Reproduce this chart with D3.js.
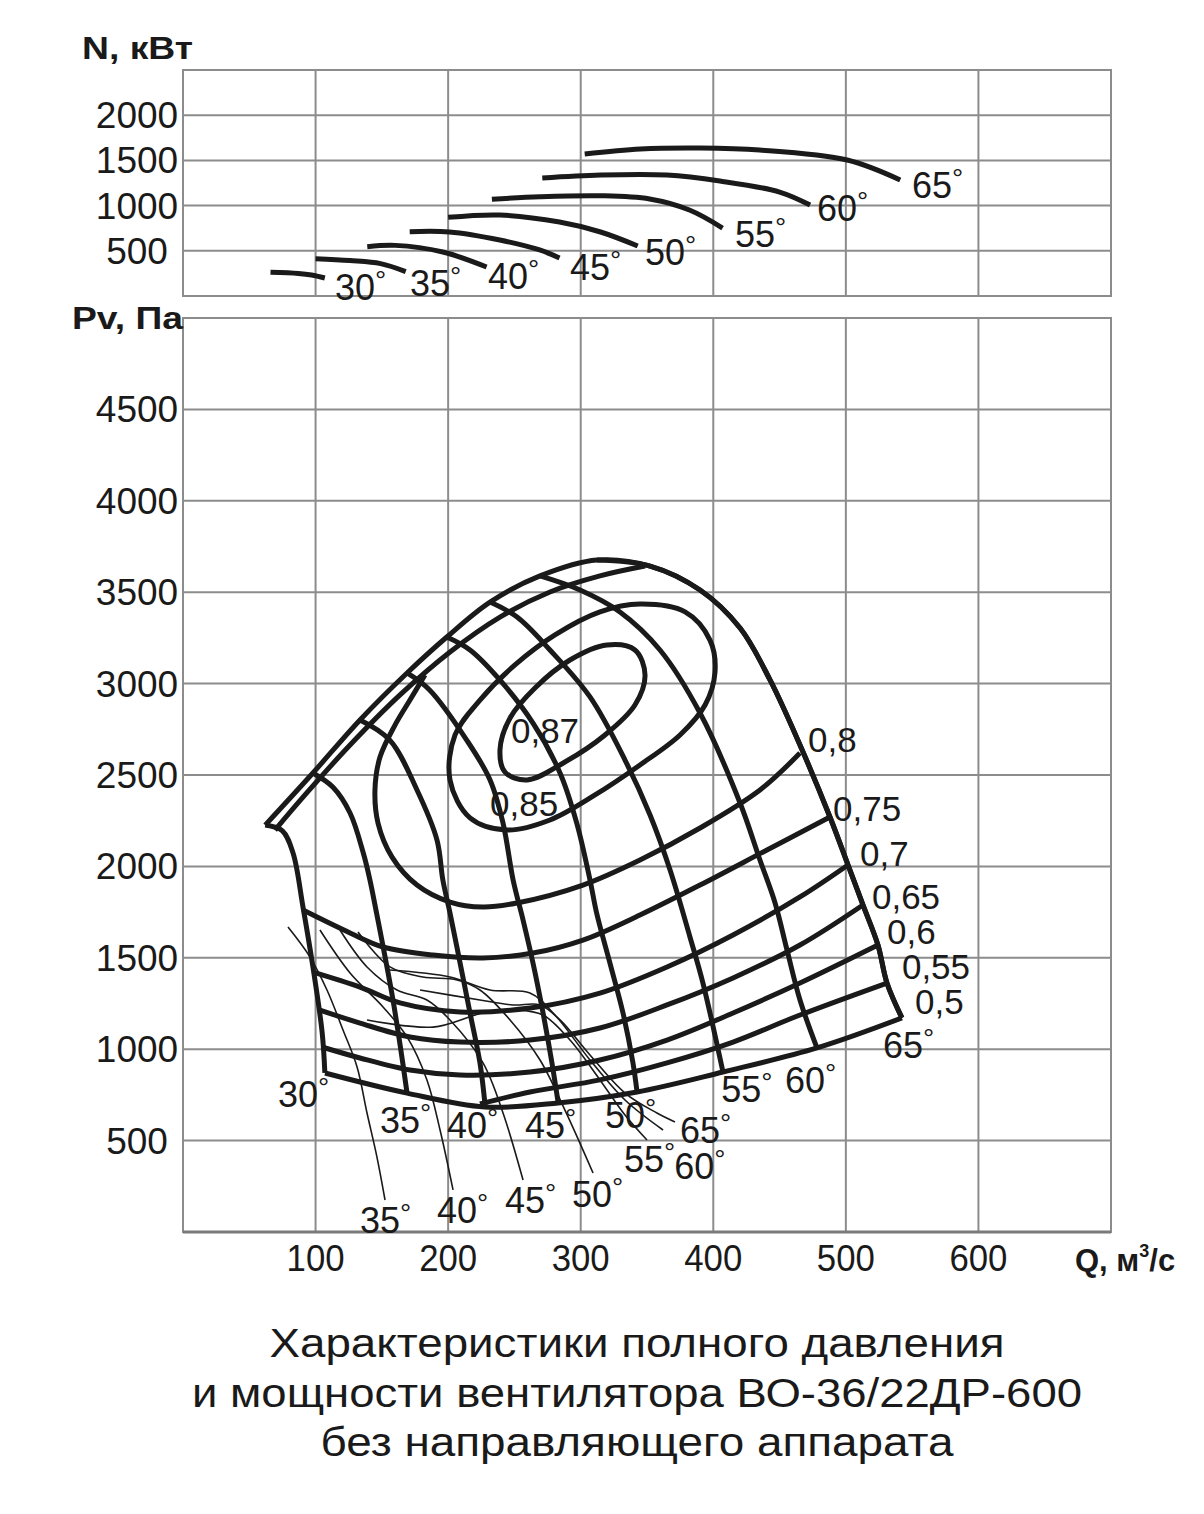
<!DOCTYPE html>
<html><head><meta charset="utf-8">
<script src="https://cdn.jsdelivr.net/npm/d3@7"></script>
<style>
body{margin:0;background:#fff}
svg text{font-family:"Liberation Sans",Arial,Helvetica,sans-serif;fill:#1a1a1a}
</style>
</head><body>
<svg id="chart" width="1204" height="1514"></svg>
<script>
// ---------- tick labels ----------
const qTicks = [100, 200, 300, 400, 500, 600];
const nTicks = [500, 1000, 1500, 2000];
const pvTicks = [500, 1000, 1500, 2000, 2500, 3000, 3500, 4000, 4500];
const angles = [30, 35, 40, 45, 50, 55, 60, 65];

// ---------- power N(Q), kW, per blade angle ----------
const n30 = [[66,262],[87,249],[97,232],[107,199]];
const n35 = [[100,413],[126,392],[149,358],[168,270]];
const n40 = [[139,545],[160,560],[196,487],[229,321]];
const n45 = [[171,711],[201,708],[239,619],[269,509],[284,420]];
const n50 = [[200,870],[239,896],[284,818],[315,708],[343,553]];
const n55 = [[233,1070],[269,1098],[315,1109],[352,1073],[382,951],[407,752]];
const n60 = [[271,1305],[315,1338],[365,1338],[405,1272],[450,1150],[473,1006]];
const n65 = [[303,1571],[345,1626],[390,1637],[435,1615],[501,1504],[541,1283]];
const nCurves = [n30, n35, n40, n45, n50, n55, n60, n65];

// ---------- total pressure Pv(Q), Pa, per blade angle ----------
const pv30 = [[62,2226],[75,2194],[83,2073],[90.5,1778],[98,1450],[105,1089],[107,870]];
const pv35 = [[98,2511],[113,2434],[126,2292],[136,2073],[141,1926],[146,1745],[151,1559],[158,1286],[164,1012],[169,760]];
const pv40 = [[133.5,2801],[156,2691],[176.5,2418],[191.6,2144],[196,1926],[201.4,1745],[209,1472],[216.5,1198],[224,925],[228,684]];
const pv45 = [[169,3058],[186,2965],[214,2691],[231.6,2473],[241.4,2237],[249,1926],[256.5,1707],[264,1472],[271.6,1198],[278.3,925],[283,706]];
const pv50 = [[199,3255],[216.5,3184],[239,3020],[264,2784],[284.4,2511],[297,2237],[307,1926],[312,1745],[322,1472],[331.9,1198],[339.4,925],[342.5,766]];
const pv55 = [[231.6,3446],[252,3364],[276.8,3184],[307,2927],[333.4,2582],[352.3,2281],[367.4,1980],[382.4,1614],[392.2,1362],[407.3,875]];
const pv60 = [[269.3,3589],[299.5,3512],[329.6,3392],[359.8,3184],[390,2839],[420.2,2347],[435.2,2035],[446.6,1800],[455.6,1543],[465.4,1269],[478.2,1007]];
const pv65 = [[312.3,3676],[352.3,3643],[390,3512],[420.2,3304],[442.8,3020],[465.4,2664],[488,2270],[501.6,2008],[512.9,1789],[524.2,1570],[531,1362],[542.3,1171]];
const pvCurves = [pv30, pv35, pv40, pv45, pv50, pv55, pv60, pv65];

// inner boundary arc near the surge line
const innerArc = [[69.4,2199],[92,2391],[126,2664],[163.7,2938],[201.4,3173],[239.1,3364],[276.8,3501],[314.5,3589],[348.5,3643]];

// ---------- efficiency contours ----------
const effLevels = ["0,87","0,85","0,8","0,75","0,7","0,65","0,6","0,55","0,5"];
const eff87 = [[239.1,2637],[246.7,2812],[265.5,2976],[291.9,3129],[319.8,3211],[340.9,3184],[348.5,3047],[340.9,2883],[318.3,2719],[288.1,2571],[259.5,2473],[242.9,2516]];
const eff85 = [[201.4,2473],[205.2,2719],[224,2910],[250.4,3102],[280.6,3266],[314.5,3392],[344.7,3435],[378.7,3392],[397.5,3238],[401.3,3063],[393.8,2883],[374.9,2719],[344.7,2555],[310.8,2391],[276.8,2254],[244.4,2199],[216.5,2265]];
const eff80 = [[465.4,2620],[435.2,2418],[390,2210],[344.7,2035],[301.7,1898],[251.9,1800],[226.3,1778],[201.4,1805],[176.5,1898],[157.7,2051],[147.1,2237],[144.8,2418],[148.6,2598],[159.9,2773],[171.2,2910],[182.5,3047]];
const eff75 = [[90.5,1761],[126,1636],[150.9,1559],[188.6,1515],[226.3,1499],[264,1526],[301.7,1597],[344.7,1734],[390,1898],[440.5,2090],[488,2270]];
const eff70 = [[98.1,1422],[133.5,1340],[163.7,1253],[208.9,1204],[261.7,1225],[314.5,1307],[365.1,1450],[414.9,1625],[465.4,1833],[501.6,2008]];
const eff65 = [[103.3,1214],[133.5,1143],[171.2,1067],[208.9,1039],[261.7,1050],[314.5,1116],[365.1,1242],[414.9,1390],[465.4,1570],[512.9,1789]];
const eff60 = [[104.8,1012],[133.5,952],[171.2,886],[208.9,859],[261.7,875],[314.5,941],[365.1,1050],[414.9,1198],[465.4,1362],[524.2,1570]];
const eff55 = [[224,700],[261.7,766],[314.5,832],[365.1,925],[414.9,1039],[465.4,1187],[531,1362]];
const eff50 = [[107.1,870],[169,760],[227.8,684],[282.9,706],[342.5,766],[407.3,875],[478.2,1007],[542.3,1171]];
const effCurves = [eff87, eff85, eff80, eff75, eff70, eff65, eff60, eff55, eff50];
const effClosed = [true, true, false, false, false, false, false, false, false];

// ---------- thin lines of the lower-left zone ----------
const thinAngles = [35, 40, 45, 50, 55, 60, 65];
const t35 = [[79.2,1668],[95.8,1504],[108.6,1324],[120.7,1105],[131.3,903],[138.8,651],[146.3,410],[152.4,175]];
const t40 = [[103.3,1652],[126,1417],[150.9,1231],[169,1067],[184,832],[193.9,558],[203.7,230]];
const t45 = [[118.4,1652],[138.8,1450],[161.4,1324],[184,1269],[201.4,1160],[226.3,925],[241.4,651],[256.5,284]];
const t50 = [[132,1641],[156.1,1450],[181,1395],[206.7,1379],[224,1324],[246.7,1160],[269.3,941],[288.1,667],[309.3,323]];
const t55 = [[138.8,1160],[188.6,1121],[226.3,1198],[251.9,1214],[271.6,1187],[291.9,1050],[314.5,832],[333.4,640],[350,503]];
const t60 = [[156.1,1433],[201.4,1395],[231.6,1324],[261.7,1307],[280.6,1187],[307,941],[333.4,722],[362.1,558]];
const t65 = [[178.8,1324],[224,1269],[248.9,1242],[269.3,1242],[284.4,1160],[307,968],[333.4,760],[357.5,651],[371.1,602]];
const thinCurves = [t35, t40, t45, t50, t55, t60, t65];

// ---------- annotation anchors (data coordinates, text start / baseline) ----------
const nLabelAt   = [[114.6,-44],[171.2,0],[230.1,77],[291.9,177],[348.5,343],[416.4,542],[478.2,830],[549.9,1084]];
const pvLabelAt  = [[71.7,684],[148.6,542],[199.1,514],[258,514],[318.3,569],[406,712],[454.1,760],[528,952]];
const thinLabelAt= [[133.5,-5],[191.6,49],[242.9,104],[293.4,137],[332.6,328],[370.5,290],[374.9,488]];
const effLabelAt = [[247.4,2675],[231.6,2276],[471.4,2626],[490.3,2248],[510.7,2002],[519.7,1767],[531,1575],[542.3,1384],[552.2,1193]];

// ---------- layout ----------
const svg = d3.select("#chart");
const L = 183, R = 1111;
const x = d3.scaleLinear().domain([0, 700]).range([L, R]);
const yN = d3.scaleLinear().domain([0, 2500]).range([296, 70]);
const yP = d3.scaleLinear().domain([0, 5000]).range([1232, 318]);
const GRID = "#8c8c8c", INK = "#1a1a1a";

function frame(y, yTicks) {
  const g = svg.append("g");
  g.selectAll(".v").data(qTicks).join("line")
    .attr("x1", d => x(d)).attr("x2", d => x(d))
    .attr("y1", y.range()[1]).attr("y2", y.range()[0])
    .attr("stroke", GRID).attr("stroke-width", 2);
  g.selectAll(".h").data(yTicks).join("line")
    .attr("x1", L).attr("x2", R)
    .attr("y1", d => y(d)).attr("y2", d => y(d))
    .attr("stroke", GRID).attr("stroke-width", 2);
  g.append("rect").attr("x", L).attr("y", y.range()[1])
    .attr("width", R - L).attr("height", y.range()[0] - y.range()[1])
    .attr("fill", "none").attr("stroke", GRID).attr("stroke-width", 2);
  g.selectAll(".t").data(yTicks).join("text")
    .attr("x", 137).attr("y", d => y(d) + 13)
    .attr("text-anchor", "middle").attr("font-size", 37)
    .text(d => d);
}
frame(yN, nTicks);
frame(yP, pvTicks);
svg.append("line").attr("x1", L).attr("x2", R).attr("y1", yP(0)).attr("y2", yP(0))
  .attr("stroke", "#7a7a7a").attr("stroke-width", 3);

// x tick labels
svg.selectAll(".xt").data(qTicks).join("text")
  .attr("x", d => x(d)).attr("y", 1271)
  .attr("text-anchor", "middle").attr("font-size", 37)
  .attr("textLength", 58).attr("lengthAdjust", "spacingAndGlyphs")
  .text(d => d);

// axis titles
svg.append("text").attr("x", 82).attr("y", 59).attr("font-size", 31).attr("font-weight", "bold")
  .attr("textLength", 111).attr("lengthAdjust", "spacingAndGlyphs").text("N, кВт");
svg.append("text").attr("x", 72).attr("y", 329).attr("font-size", 31).attr("font-weight", "bold")
  .attr("textLength", 111).attr("lengthAdjust", "spacingAndGlyphs").text("Pv, Па");
const qt = svg.append("text").attr("x", 1075).attr("y", 1271).attr("font-size", 31).attr("font-weight", "bold");
qt.append("tspan").text("Q, м");
qt.append("tspan").attr("font-size", 18).attr("dy", -14).text("3");
qt.append("tspan").attr("dy", 14).text("/с");

// ---------- top chart curves ----------
const lineN = d3.line().x(d => x(d[0])).y(d => yN(d[1])).curve(d3.curveCatmullRom.alpha(0.5));
svg.append("g").selectAll("path").data(nCurves).join("path")
  .attr("d", lineN).attr("fill", "none").attr("stroke", INK)
  .attr("stroke-width", 5).attr("stroke-linecap", "butt");

function degLabel(sel, q, v, yScale, a) {
  const t = sel.append("text").attr("x", x(q)).attr("y", yScale(v)).attr("font-size", 36);
  t.append("tspan").text(a);
  t.append("tspan").attr("font-size", 28).attr("dy", -10).text("°");
}
const gNL = svg.append("g");
angles.forEach((a, i) => degLabel(gNL, nLabelAt[i][0], nLabelAt[i][1], yN, a));

// ---------- bottom chart curves ----------
const lineP = d3.line().x(d => x(d[0])).y(d => yP(d[1])).curve(d3.curveCatmullRom.alpha(0.5));
const lineClosed = d3.line().x(d => x(d[0])).y(d => yP(d[1])).curve(d3.curveCatmullRomClosed.alpha(0.5));

svg.append("g").selectAll("path").data(thinCurves).join("path")
  .attr("d", lineP).attr("fill", "none").attr("stroke", INK).attr("stroke-width", 1.6);

svg.append("g").selectAll("path").data(effCurves).join("path")
  .attr("d", (d, i) => effClosed[i] ? lineClosed(d) : lineP(d))
  .attr("fill", "none").attr("stroke", INK).attr("stroke-width", 5);

svg.append("g").selectAll("path").data(pvCurves).join("path")
  .attr("d", lineP).attr("fill", "none").attr("stroke", INK).attr("stroke-width", 5);

// outer boundary: surge line through the curve starts, continued by the 65° curve
const boundary = pvCurves.slice(0, 7).map(c => c[0]).concat(pv65);
svg.append("path").datum(boundary).attr("d", lineP)
  .attr("fill", "none").attr("stroke", INK).attr("stroke-width", 5).attr("stroke-linejoin", "round");
svg.append("path").datum(innerArc).attr("d", lineP)
  .attr("fill", "none").attr("stroke", INK).attr("stroke-width", 5);

const gPL = svg.append("g");
angles.forEach((a, i) => degLabel(gPL, pvLabelAt[i][0], pvLabelAt[i][1], yP, a));
thinAngles.forEach((a, i) => degLabel(gPL, thinLabelAt[i][0], thinLabelAt[i][1], yP, a));
svg.append("g").selectAll("text").data(effLevels).join("text")
  .attr("x", (d, i) => x(effLabelAt[i][0])).attr("y", (d, i) => yP(effLabelAt[i][1]))
  .attr("font-size", 35).text(d => d);

// ---------- caption ----------
const caption = ["Характеристики полного давления", "и мощности вентилятора ВО-36/22ДР-600", "без направляющего аппарата"];
const capW = [735, 890, 633];
svg.append("g").selectAll("text").data(caption).join("text")
  .attr("x", 637).attr("y", (d, i) => 1357 + i * 49.5)
  .attr("text-anchor", "middle").attr("font-size", 40)
  .attr("textLength", (d, i) => capW[i]).attr("lengthAdjust", "spacingAndGlyphs")
  .text(d => d);
</script>
</body></html>
